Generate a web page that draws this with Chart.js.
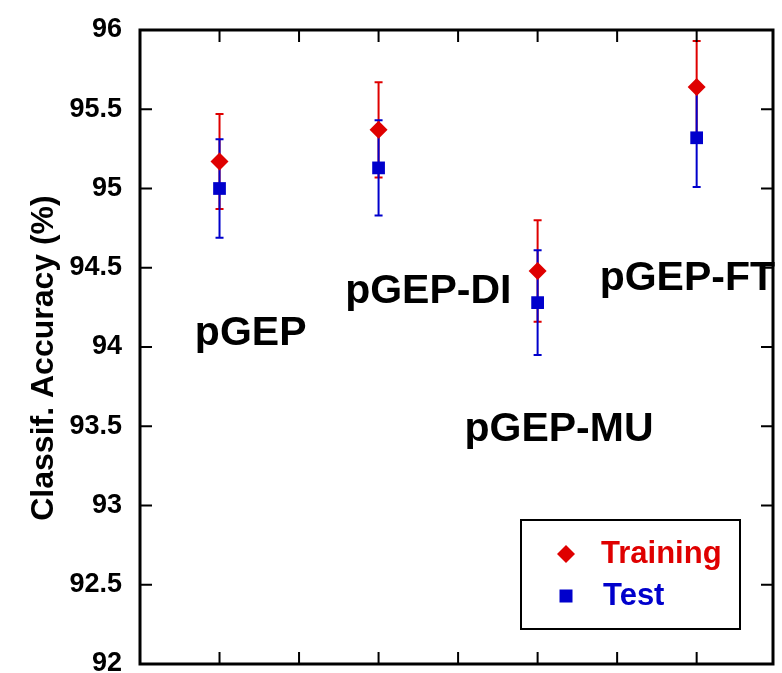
<!DOCTYPE html>
<html>
<head>
<meta charset="utf-8">
<script src="https://cdn.jsdelivr.net/npm/chart.js@4/dist/chart.umd.min.js"></script>
<style>
  html, body { margin: 0; padding: 0; background: #fff; }
</style>
</head>
<body>
<canvas id="myChart" width="782" height="673"></canvas>
<script>
var methods = ['pGEP', 'pGEP-DI', 'pGEP-MU', 'pGEP-FT']
var trainAcc = [95.17, 95.37, 94.48, 95.64]
var trainErr = [0.30, 0.30, 0.32, 0.29]
var testAcc = [95.00, 95.13, 94.28, 95.32]
var testErr = [0.31, 0.30, 0.33, 0.31]

// method names are placed in axis units: left edge and baseline
var nameX = [0.845, 1.79, 2.54, 3.39]
var nameY = [94.01, 94.28, 93.41, 94.36]

var xTicks = [1, 1.5, 2, 2.5, 3, 3.5, 4]
var yTicks = [92, 92.5, 93, 93.5, 94, 94.5, 95, 95.5, 96]

var RED = '#df0000'
var BLUE = '#0000cc'
var FONT = '"Liberation Sans", Arial, sans-serif'

function points(values) {
  return values.map(function (v, i) { return { x: i + 1, y: v } })
}

function errorBars(ctx, xs, ys, values, errs, color) {
  ctx.save()
  ctx.strokeStyle = color
  ctx.lineWidth = 2
  values.forEach(function (v, i) {
    var x = xs.getPixelForValue(i + 1)
    var top = ys.getPixelForValue(v + errs[i])
    var bot = ys.getPixelForValue(v - errs[i])
    ctx.beginPath()
    ctx.moveTo(x, top); ctx.lineTo(x, bot)
    ctx.moveTo(x - 4, top); ctx.lineTo(x + 4, top)
    ctx.moveTo(x - 4, bot); ctx.lineTo(x + 4, bot)
    ctx.stroke()
  })
  ctx.restore()
}

function diamond(ctx, x, y, r) {
  ctx.beginPath()
  ctx.moveTo(x - r, y); ctx.lineTo(x, y - r)
  ctx.lineTo(x + r, y); ctx.lineTo(x, y + r)
  ctx.closePath()
  ctx.fill()
}

// keep tick labels from pushing the plot area inwards
function noPadding(scale) {
  scale.paddingTop = 0
  scale.paddingBottom = 0
  scale.paddingLeft = 0
  scale.paddingRight = 0
}

var extras = {
  id: 'extras',
  beforeDatasetsDraw: function (chart) {
    var xs = chart.scales.x, ys = chart.scales.y
    errorBars(chart.ctx, xs, ys, trainAcc, trainErr, RED)
    errorBars(chart.ctx, xs, ys, testAcc, testErr, BLUE)
  },
  afterDatasetsDraw: function (chart) {
    var ctx = chart.ctx
    var xs = chart.scales.x, ys = chart.scales.y
    var a = chart.chartArea
    ctx.save()

    // method names
    ctx.fillStyle = '#000'
    ctx.font = 'bold 41px ' + FONT
    ctx.textAlign = 'left'
    ctx.textBaseline = 'alphabetic'
    methods.forEach(function (m, i) {
      ctx.fillText(m, xs.getPixelForValue(nameX[i]), ys.getPixelForValue(nameY[i]))
    })

    // legend box
    var lx = 521, ly = 520, lw = 219, lh = 109
    ctx.fillStyle = '#fff'
    ctx.fillRect(lx, ly, lw, lh)
    ctx.strokeStyle = '#000'
    ctx.lineWidth = 2
    ctx.strokeRect(lx, ly, lw, lh)
    ctx.font = 'bold 31px ' + FONT
    var ds = chart.data.datasets
    ctx.fillStyle = ds[0].backgroundColor
    diamond(ctx, 566, 554, 9)
    ctx.fillText(ds[0].label, 601, 563)
    ctx.fillStyle = ds[1].backgroundColor
    ctx.fillRect(559.5, 589.5, 13, 13)
    ctx.fillText(ds[1].label, 603, 605)

    // frame with inward ticks
    ctx.strokeStyle = '#000'
    ctx.lineWidth = 3
    ctx.strokeRect(a.left, a.top, a.right - a.left, a.bottom - a.top)
    ctx.lineWidth = 2
    ctx.beginPath()
    xTicks.forEach(function (t) {
      var x = xs.getPixelForValue(t)
      ctx.moveTo(x, a.bottom); ctx.lineTo(x, a.bottom - 12)
      ctx.moveTo(x, a.top); ctx.lineTo(x, a.top + 12)
    })
    yTicks.forEach(function (t) {
      var y = ys.getPixelForValue(t)
      ctx.moveTo(a.left, y); ctx.lineTo(a.left + 12, y)
      ctx.moveTo(a.right, y); ctx.lineTo(a.right - 12, y)
    })
    ctx.stroke()

    // y axis title
    ctx.fillStyle = '#000'
    ctx.font = 'bold 32px ' + FONT
    ctx.translate(53, 358)
    ctx.rotate(-Math.PI / 2)
    ctx.textAlign = 'center'
    ctx.fillText('Classif. Accuracy (%)', 0, 0)
    ctx.restore()
  }
}

var ctx = document.getElementById('myChart').getContext('2d')
var chart = new Chart(ctx, {
  type: 'scatter',
  data: {
    datasets: [{
      label: 'Training',
      data: points(trainAcc),
      backgroundColor: RED,
      borderColor: RED,
      borderWidth: 0,
      pointStyle: 'rectRot',
      pointRadius: 9
    }, {
      label: 'Test',
      data: points(testAcc),
      backgroundColor: BLUE,
      borderColor: BLUE,
      borderWidth: 0,
      pointStyle: 'rect',
      pointRadius: 9
    }]
  },
  options: {
    responsive: false,
    animation: false,
    devicePixelRatio: 1,
    events: [],
    layout: { padding: { left: 0, right: 0, top: 30, bottom: 8 } },
    plugins: { legend: { display: false }, tooltip: { enabled: false } },
    scales: {
      x: { type: 'linear', min: 0.5, max: 4.48, display: false, afterFit: noPadding },
      y: {
        min: 92,
        max: 96,
        afterFit: function (scale) {
          scale.width = 140
          noPadding(scale)
        },
        afterBuildTicks: function (scale) {
          scale.ticks = yTicks.map(function (v) { return { value: v } })
        },
        grid: { display: false, drawTicks: false },
        border: { display: false },
        ticks: {
          padding: 18,
          color: '#000',
          font: { family: FONT, size: 27, weight: 'bold' },
          callback: function (v) { return String(v) }
        }
      }
    }
  },
  plugins: [extras]
})
</script>
</body>
</html>
